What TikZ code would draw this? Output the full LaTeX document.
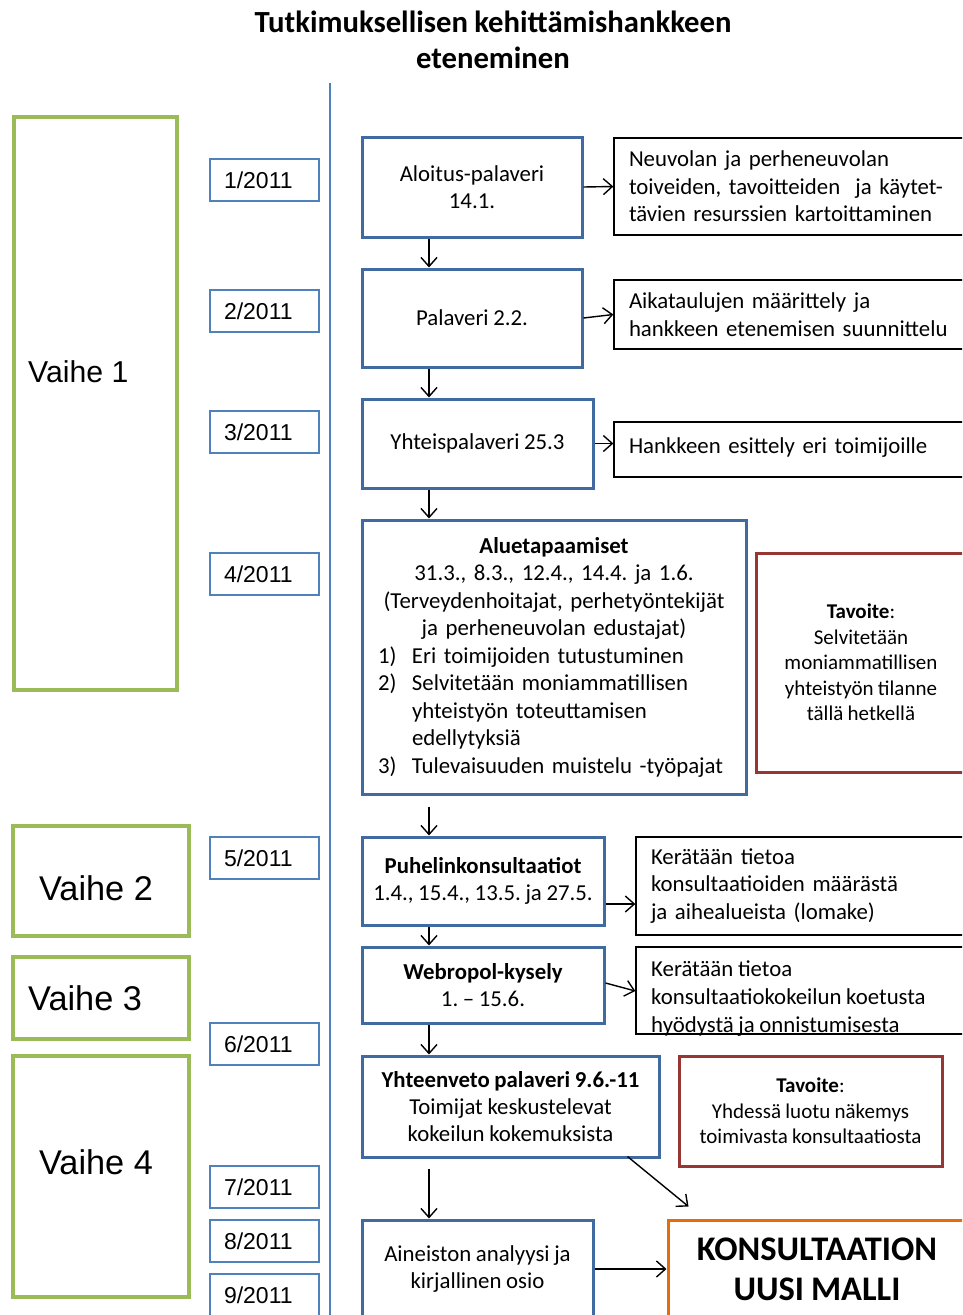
\documentclass[tikz,border=0pt]{standalone}
\usepackage{fontspec}
\setmainfont{Carlito}[WordSpace=0.9]
\newfontfamily\arialfont{Liberation Sans}
\usetikzlibrary{arrows.meta,calc}
\frenchspacing

\definecolor{phasegreen}{RGB}{155,187,89}
\definecolor{stepblue}{RGB}{65,106,160}
\definecolor{dateblue}{RGB}{79,129,189}
\definecolor{goalred}{RGB}{150,55,52}
\definecolor{finalorange}{RGB}{228,108,10}

\tikzset{
  phasebox/.style={draw=phasegreen, line width=3.5pt, inner sep=0pt},
  phasetext/.style={font=\arialfont\fontsize{34.3}{38}\selectfont, inner sep=0pt},
  datebox/.style={draw=dateblue, line width=1.5pt, minimum height=42pt,
    text width=81pt, inner xsep=14pt, inner ysep=0pt, align=left,
    font=\arialfont\fontsize{23}{26}\selectfont},
  stepbox/.style={draw=stepblue, line width=3pt, inner sep=0pt, align=center,
    font=\fontsize{22.8}{27}\selectfont},
  notebox/.style={draw=black, line width=1.3pt, inner xsep=15pt, inner ysep=0pt,
    align=left, font=\fontsize{22.8}{27.5}\selectfont},
  goalbox/.style={draw=goalred, line width=3pt, inner sep=0pt, align=center,
    font=\fontsize{21}{25.5}\selectfont},
  finalbox/.style={draw=finalorange, line width=3pt, inner sep=0pt, align=center,
    font=\bfseries\fontsize{34.5}{40}\selectfont},
  arr/.style={draw=black, line width=1.4pt, -{Straight Barb[length=9pt,width=16pt]}},
}

\begin{document}
\begin{tikzpicture}[x=1pt,y=-1pt]
\useasboundingbox (0,0) rectangle (962,1315);
\clip (0,0) rectangle (962,1315);

% title
\node[font=\bfseries\fontsize{30.7}{36}\selectfont, align=center] (title) at (493,40)
  {Tutkimuksellisen kehittämishankkeen\\eteneminen};

% time axis
\coordinate (axistop) at (330,83);
\coordinate (axisbot) at (330,1315);
\draw[draw=dateblue, line width=1.3pt] (axistop) -- (axisbot);

% phases
\node[phasebox, minimum width=163pt, minimum height=573pt] (v1) at (95.5,403.5) {};
\node[phasetext, anchor=west, font=\arialfont\fontsize{30.2}{33}\selectfont] (v1t) at (28,372) {Vaihe 1};
\node[phasebox, minimum width=176pt, minimum height=110pt] (v2) at (101,881) {};
\node[phasetext] (v2t) at (96,888) {Vaihe 2};
\node[phasebox, minimum width=176pt, minimum height=82pt] (v3) at (101,998) {};
\node[phasetext, anchor=west] (v3t) at (28,998) {Vaihe 3};
\node[phasebox, minimum width=176pt, minimum height=241pt] (v4) at (101,1176.5) {};
\node[phasetext] (v4t) at (96,1162) {Vaihe 4};

% months
\node[datebox] (m1) at (264.5,180) {1/2011};
\node[datebox] (m2) at (264.5,311) {2/2011};
\node[datebox] (m3) at (264.5,432) {3/2011};
\node[datebox] (m4) at (264.5,574) {4/2011};
\node[datebox] (m5) at (264.5,858) {5/2011};
\node[datebox] (m6) at (264.5,1044) {6/2011};
\node[datebox] (m7) at (264.5,1187) {7/2011};
\node[datebox] (m8) at (264.5,1241) {8/2011};
\node[datebox] (m9) at (264.5,1295) {9/2011};

% process steps
\node[stepbox, minimum width=220pt, minimum height=100pt] (s1) at (472,187)
  {Aloitus-palaveri\\14.1.};
\node[stepbox, minimum width=220pt, minimum height=98pt] (s2) at (472,318)
  {Palaveri 2.2.};
\node[stepbox, minimum width=231pt, minimum height=89pt] (s3) at (477.5,443.5)
  {\raisebox{-2pt}{Yhteispalaveri 25.3}};
\node[stepbox, minimum width=384pt, minimum height=274pt, text width=352pt,
      align=left, font=\fontsize{22.8}{27.5}\selectfont] (s4) at (554,657)
  {{\centering\textbf{Aluetapaamiset}\\
   31.3., 8.3., 12.4., 14.4. ja 1.6.\\
   (Terveydenhoitajat, perhetyöntekijät\\
   ja perheneuvolan edustajat)\par}
   \makebox[34pt][l]{1)}Eri toimijoiden tutustuminen\\
   \makebox[34pt][l]{2)}Selvitetään moniammatillisen\\
   \makebox[34pt][l]{}yhteistyön toteuttamisen\\
   \makebox[34pt][l]{}edellytyksiä\\
   \makebox[34pt][l]{3)}Tulevaisuuden muistelu -työpajat};
\node[stepbox, minimum width=242pt, minimum height=88pt] (s5) at (483,881)
  {\textbf{Puhelinkonsultaatiot}\\1.4., 15.4., 13.5. ja 27.5.};
\node[stepbox, minimum width=242pt, minimum height=76pt] (s6) at (483,985)
  {\textbf{Webropol-kysely}\\1. -- 15.6.};
\node[stepbox, minimum width=297pt, minimum height=101pt] (s7) at (510.5,1106.5)
  {\textbf{Yhteenveto palaveri 9.6.-11}\\Toimijat keskustelevat\\kokeilun kokemuksista};
\node[stepbox, minimum width=231pt, minimum height=98pt] (s8) at (477.5,1269)
  {Aineiston analyysi ja\\kirjallinen osio};

% notes
\node[notebox, minimum width=352pt, minimum height=97pt, text width=322pt] (n1) at (790,186.5)
  {Neuvolan ja perheneuvolan\\toiveiden, tavoitteiden\ \ ja käytet-\\tävien resurssien kartoittaminen};
\node[notebox, minimum width=352pt, minimum height=69pt, text width=322pt] (n2) at (790,314.5)
  {Aikataulujen määrittely ja\\hankkeen etenemisen suunnittelu};
\node[notebox, minimum width=352pt, minimum height=55pt, text width=322pt] (n3) at (790,449.5)
  {\raisebox{8pt}{Hankkeen esittely eri toimijoille}};
\node[notebox, minimum width=330pt, minimum height=98pt, text width=300pt] (n5) at (801,886)
  {Kerätään tietoa\\konsultaatioiden määrästä\\ja aihealueista (lomake)};
\node[notebox, minimum width=330pt, minimum height=87pt, text width=300pt] (n6) at (801,990.5) {};
\node[font=\fontsize{22.8}{28}\selectfont, align=left, anchor=north west, inner sep=0pt] (n6t)
  at (651,961) {Kerätään tietoa\\konsultaatiokokeilun koetusta\\hyödystä ja onnistumisesta};

% goals
\node[goalbox, minimum width=210pt, minimum height=219pt] (g1) at (861,662.5)
  {\textbf{Tavoite}:\\Selvitetään\\moniammatillisen\\yhteistyön tilanne\\tällä hetkellä};
\node[goalbox, minimum width=263pt, minimum height=110pt] (g2) at (810.5,1111)
  {\textbf{Tavoite}:\\Yhdessä luotu näkemys\\toimivasta konsultaatiosta};

% result
\node[finalbox, minimum width=298pt, minimum height=98pt] (fin) at (817,1269)
  {KONSULTAATION\\UUSI MALLI};

% flow along the steps
\coordinate (spine) at (429,0);
\draw[arr] (s1.south -| spine) -- (s2.north -| spine);
\draw[arr] (s2.south -| spine) -- (s3.north -| spine);
\draw[arr] (s3.south -| spine) -- (s4.north -| spine);
\draw[arr, shorten <=11pt] (s4.south -| spine) -- (s5.north -| spine);
\draw[arr] (s5.south -| spine) -- (s6.north -| spine);
\draw[arr] (s6.south -| spine) -- (s7.north -| spine);
\draw[arr, shorten <=10pt] (s7.south -| spine) -- (s8.north -| spine);
\draw[arr] ($(s7.south east)+(-33,-2)$) -- ($(fin.north west)+(22,-12)$);
\draw[arr] (s8.east) -- (fin.west);

% steps to their notes
\draw[arr] (s1.east) -- (n1.west);
\draw[arr] (s2.east) -- (n2.west);
\draw[arr] (s3.east) -- (s3.east -| n3.west);
\draw[arr] ($(s5.east)+(0,23)$) -- ($(s5.east -| n5.west)+(0,23)$);
\draw[arr] ($(s6.east)+(0,-2)$) -- ($(n6.west)+(0,0.5)$);
\end{tikzpicture}
\end{document}
